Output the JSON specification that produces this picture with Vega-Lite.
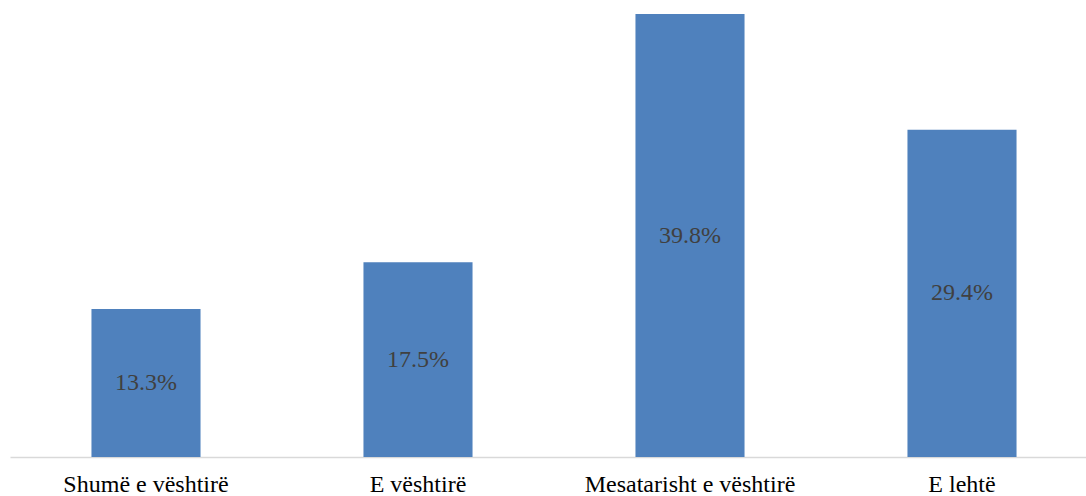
{
  "$schema": "https://vega.github.io/schema/vega-lite/v6.json",
  "autosize": "none",
  "width": 1088,
  "height": 447,
  "padding": {"left": 10, "top": 10, "right": 0, "bottom": 39},
  "background": "white",
  "config": {"view": {"stroke": null}},
  "data": {"values": [
    {"cat": "Shumë e vështirë", "v": 13.3, "label": "13.3%"},
    {"cat": "E vështirë", "v": 17.5, "label": "17.5%"},
    {"cat": "Mesatarisht e vështirë", "v": 39.8, "label": "39.8%"},
    {"cat": "E lehtë", "v": 29.4, "label": "29.4%"}
  ]},
  "encoding": {
    "x": {"field": "cat", "type": "nominal", "sort": null,
      "scale": {"paddingInner": 0.599, "paddingOuter": 0.2995},
      "axis": {"title": null, "labelAngle": 0, "domainColor": "#d9d9d9", "domainWidth": 1.5, "ticks": false, "labelLimit": 400,
        "labelFont": "Liberation Serif", "labelFontSize": 24, "labelColor": "#000000", "labelPadding": 15}}
  },
  "layer": [
    {"mark": {"type": "bar", "color": "#4f81bd"},
     "encoding": {"y": {"field": "v", "type": "quantitative", "scale": {"domain": [0, 40.16]}, "axis": null}}},
    {"mark": {"type": "text", "font": "Liberation Serif", "fontSize": 24, "color": "#404040", "baseline": "middle"},
     "transform": [{"calculate": "datum.v / 2", "as": "mid"}],
     "encoding": {"y": {"field": "mid", "type": "quantitative", "scale": {"domain": [0, 40.16]}, "axis": null},
       "text": {"field": "label"}}}
  ]
}
